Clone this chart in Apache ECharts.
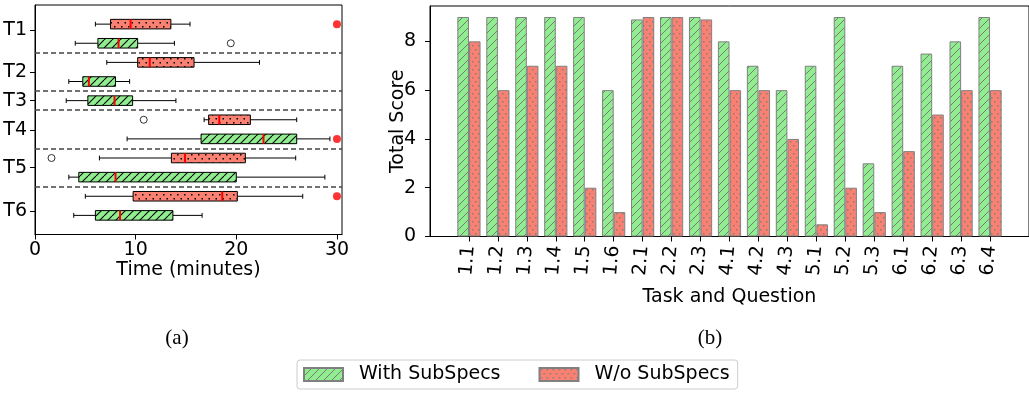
<!DOCTYPE html>
<html>
<head>
<meta charset="utf-8">
<script src="https://cdn.jsdelivr.net/npm/echarts@6/dist/echarts.min.js"></script>
<style>
html,body{margin:0;padding:0;background:#fff;}
#chart{width:1029px;height:393px;}
</style>
</head>
<body>
<div id="chart"></div>
<script>
// ---------- data: (a) completion time box plots ----------
const taskNames = ['T1', 'T2', 'T3', 'T4', 'T5', 'T6'];
// whisker-low, Q1, median, Q3, whisker-high (minutes)
const withBoxStats = [
  [4.0, 6.25, 8.3, 10.2, 13.85],
  [3.36, 4.75, 5.35, 8.0, 9.4],
  [3.1, 5.25, 7.9, 9.7, 14.0],
  [9.15, 16.5, 22.7, 26.0, 29.3],
  [3.36, 4.35, 8.0, 20.0, 28.8],
  [3.85, 6.0, 8.45, 13.7, 16.6]
];
const woBoxStats = [
  [6.0, 7.5, 9.5, 13.5, 15.4],
  [7.13, 10.2, 11.4, 15.8, 22.3],
  null,
  [16.8, 17.25, 18.3, 21.4, 26.0],
  [6.4, 13.55, 14.9, 20.9, 25.9],
  [5.0, 9.75, 18.6, 20.1, 26.6]
];
// box row of each task (rows counted from the top)
const withRows = [2, 4, 5, 7, 9, 11];
const woRows = [1, 3, null, 6, 8, 10];
// outliers: [minutes, row]
const outlierPoints = [[19.45, 2], [10.8, 6], [1.64, 8]];
// timed-out attempts: [minutes, row]
const timeoutPoints = [[30, 1], [30, 7], [30, 10]];
const timeTicks = [0, 10, 20, 30];

// ---------- data: (b) total score bars ----------
const questions = ['1.1','1.2','1.3','1.4','1.5','1.6','2.1','2.2','2.3','4.1','4.2','4.3','5.1','5.2','5.3','6.1','6.2','6.3','6.4'];
const withScores = [9, 9, 9, 9, 9, 6, 8.9, 9, 9, 8, 7, 6, 7, 9, 3, 7, 7.5, 8, 9];
const woScores = [8, 6, 7, 7, 2, 1, 9, 9, 8.9, 6, 6, 4, 0.5, 2, 1, 3.5, 5, 6, 6];
const scoreTicks = [0, 2, 4, 6, 8];

// ---------- layout / style ----------
const taskLabelPos = [1.3, 3.5, 5, 6.55, 8.5, 10.8];
const separators = [2.5, 4.5, 5.5, 7.5, 9.5];
const GREEN = '#90EE90', SALMON = '#FA8072';
const FONT = 'DejaVu Sans';

function hatchTile(bg, stroke, lw, size) {
  const c = document.createElement('canvas');
  c.width = c.height = size;
  const g = c.getContext('2d');
  g.fillStyle = bg; g.fillRect(0, 0, size, size);
  g.strokeStyle = stroke; g.lineWidth = lw;
  for (const k of [-size, 0, size]) {
    g.beginPath(); g.moveTo(k, size); g.lineTo(k + size, 0); g.stroke();
  }
  return c;
}
function dotTile(bg, col, w, h, pts, d) {
  const c = document.createElement('canvas');
  c.width = w; c.height = h;
  const g = c.getContext('2d');
  g.fillStyle = bg; g.fillRect(0, 0, w, h);
  g.fillStyle = col;
  pts.forEach(p => g.fillRect(p[0], p[1], d, d));
  return c;
}
const boxGreenFill = { image: hatchTile(GREEN, '#000', 1.1, 8), repeat: 'repeat' };
const boxRedFill = { image: dotTile(SALMON, '#000', 7, 8, [[2, 2], [5.5, 6]], 1.5), repeat: 'repeat' };
const barGreenFill = { image: hatchTile(GREEN, '#7a7a7a', 1, 8), repeat: 'repeat' };
const barRedFill = { image: dotTile(SALMON, '#808080', 6, 8, [[1, 1], [4, 5]], 1.5), repeat: 'repeat' };

const boxData = [];
withBoxStats.forEach((s, i) => { if (s) boxData.push([withRows[i], ...s, 0]); });
woBoxStats.forEach((s, i) => { if (s) boxData.push([woRows[i], ...s, 1]); });

function renderBox(params, api) {
  const row = api.value(0);
  const wl = api.value(1), q1 = api.value(2), md = api.value(3), q3 = api.value(4), wh = api.value(5);
  const kind = api.value(6);
  const pWl = api.coord([wl, row]), pQ1 = api.coord([q1, row]), pMd = api.coord([md, row]);
  const pQ3 = api.coord([q3, row]), pWh = api.coord([wh, row]);
  const y = pWl[1];
  const halfH = api.size([0, 0.25])[1];
  const capH = api.size([0, 0.125])[1];
  const lineStyle = { stroke: '#000', lineWidth: 1 };
  return {
    type: 'group',
    children: [
      { type: 'line', shape: { x1: pWl[0], y1: y, x2: pQ1[0], y2: y }, style: lineStyle },
      { type: 'line', shape: { x1: pQ3[0], y1: y, x2: pWh[0], y2: y }, style: lineStyle },
      { type: 'line', shape: { x1: pWl[0], y1: y - capH, x2: pWl[0], y2: y + capH }, style: lineStyle },
      { type: 'line', shape: { x1: pWh[0], y1: y - capH, x2: pWh[0], y2: y + capH }, style: lineStyle },
      { type: 'rect', shape: { x: pQ1[0], y: y - halfH, width: pQ3[0] - pQ1[0], height: 2 * halfH },
        style: { fill: kind === 0 ? boxGreenFill : boxRedFill, stroke: '#000', lineWidth: 1 } },
      { type: 'line', shape: { x1: pMd[0], y1: y - halfH, x2: pMd[0], y2: y + halfH },
        style: { stroke: '#ff0000', lineWidth: 2 } }
    ]
  };
}

const chart = echarts.init(document.getElementById('chart'), null, { renderer: 'canvas' });
const axisLine = { show: true, onZero: false, lineStyle: { color: '#000', width: 1 } };
const axisTick = { show: true, inside: false, length: 5, lineStyle: { color: '#000', width: 1 } };

chart.setOption({
  animation: false,
  textStyle: { fontFamily: FONT },
  grid: [
    { left: 35, top: 5, width: 307, height: 229.5, show: true, borderColor: '#000', borderWidth: 1 },
    { left: 430, top: 6, width: 600, height: 230.5, show: true, borderColor: '#000', borderWidth: 1 }
  ],
  xAxis: [
    {
      gridIndex: 0, type: 'value', min: 0, max: 30.5,
      name: 'Time (minutes)', nameLocation: 'middle', nameGap: 26, nameMoveOverlap: false,
      nameTextStyle: { fontSize: 19, color: '#000', fontFamily: FONT },
      axisLine, axisTick: Object.assign({ customValues: timeTicks }, axisTick),
      axisLabel: { customValues: timeTicks, fontSize: 19, color: '#000', margin: 6, fontFamily: FONT },
      splitLine: { show: false }
    },
    {
      gridIndex: 1, type: 'value', min: -1.345, max: 19.345,
      name: 'Task and Question', nameLocation: 'middle', nameGap: 51, nameMoveOverlap: false,
      nameTextStyle: { fontSize: 19, color: '#000', fontFamily: FONT },
      axisLine, axisTick: Object.assign({ customValues: questions.map((q, i) => i) }, axisTick),
      axisLabel: {
        customValues: questions.map((q, i) => i), rotate: 85, fontSize: 19, color: '#000', margin: 9,
        fontFamily: FONT, formatter: v => questions[Math.round(v)]
      },
      splitLine: { show: false }
    }
  ],
  yAxis: [
    {
      gridIndex: 0, type: 'value', min: 0, max: 12, inverse: true,
      axisLine, axisTick: Object.assign({ customValues: taskLabelPos }, axisTick),
      axisLabel: {
        customValues: taskLabelPos, fontSize: 19, color: '#000', margin: 8, fontFamily: FONT,
        formatter: v => taskNames[taskLabelPos.indexOf(v)]
      },
      splitLine: { show: false }
    },
    {
      gridIndex: 1, type: 'value', min: 0, max: 9.45,
      name: 'Total Score', nameLocation: 'middle', nameGap: 22, nameMoveOverlap: false,
      nameTextStyle: { fontSize: 19, color: '#000', fontFamily: FONT },
      axisLine, axisTick: Object.assign({ customValues: scoreTicks }, axisTick),
      axisLabel: { customValues: scoreTicks, fontSize: 19, color: '#000', margin: 14, fontFamily: FONT },
      splitLine: { show: false }
    }
  ],
  legend: {
    data: ['With SubSpecs', 'W/o SubSpecs'],
    left: 297, top: 360,
    orient: 'horizontal',
    icon: 'rect', itemWidth: 39, itemHeight: 13, itemGap: 38,
    padding: [5, 8, 5, 6],
    borderColor: '#cccccc', borderWidth: 1, borderRadius: 3,
    selectedMode: false,
    textStyle: { fontSize: 19, color: '#000', fontFamily: FONT, padding: [0, 0, 0, 11] }
  },
  graphic: [
    { type: 'text', x: 177, y: 338, style: { text: '(a)', textAlign: 'center', textVerticalAlign: 'middle', font: '21px "Liberation Serif"', fill: '#000' } },
    { type: 'text', x: 710, y: 338, style: { text: '(b)', textAlign: 'center', textVerticalAlign: 'middle', font: '21px "Liberation Serif"', fill: '#000' } }
  ],
  series: [
    {
      name: 'boxes', type: 'custom', xAxisIndex: 0, yAxisIndex: 0,
      renderItem: renderBox, data: boxData, clip: false,
      markLine: {
        silent: true, symbol: 'none', label: { show: false },
        lineStyle: { color: '#444', type: [5, 3], width: 1.5 },
        data: separators.map(v => ({ yAxis: v }))
      }
    },
    {
      name: 'outliers', type: 'scatter', xAxisIndex: 0, yAxisIndex: 0,
      data: outlierPoints, symbol: 'circle', symbolSize: 7,
      itemStyle: { color: 'rgba(0,0,0,0)', borderColor: '#000', borderWidth: 1 }
    },
    {
      name: 'timeouts', type: 'scatter', xAxisIndex: 0, yAxisIndex: 0,
      data: timeoutPoints, symbol: 'circle', symbolSize: 8,
      itemStyle: { color: '#ff0000' }
    },
    {
      name: 'With SubSpecs', type: 'bar', xAxisIndex: 1, yAxisIndex: 1,
      data: withScores.map((v, i) => [i, v]), barWidth: 11.6, barGap: '0%',
      itemStyle: { color: barGreenFill, borderColor: '#808080', borderWidth: 1 }
    },
    {
      name: 'W/o SubSpecs', type: 'bar', xAxisIndex: 1, yAxisIndex: 1,
      data: woScores.map((v, i) => [i, v]), barWidth: 11.6, barGap: '0%',
      itemStyle: { color: barRedFill, borderColor: '#808080', borderWidth: 1 }
    }
  ]
});
</script>
</body>
</html>
